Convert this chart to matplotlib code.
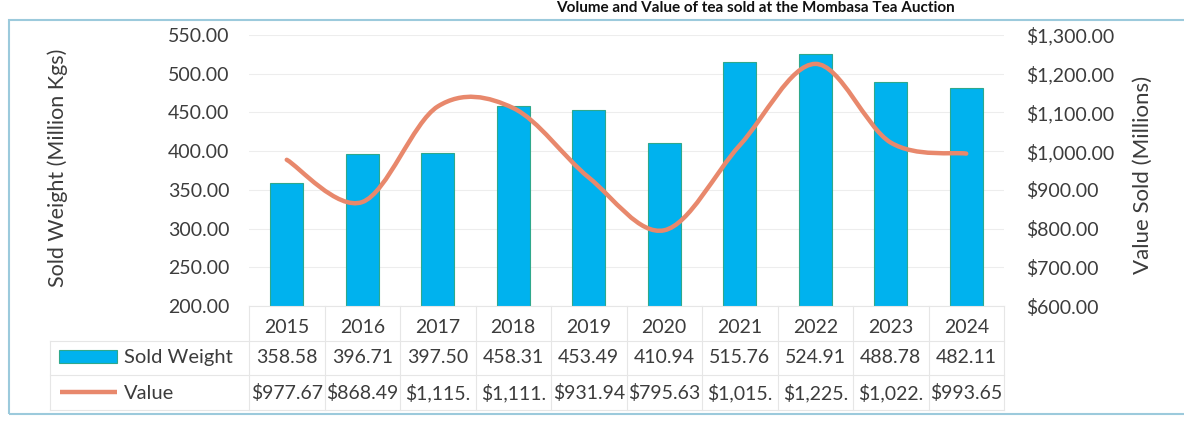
import numpy as np
import matplotlib
matplotlib.use("Agg")
import matplotlib.pyplot as plt
from matplotlib.path import Path
from matplotlib.patches import PathPatch, Rectangle
from matplotlib.lines import Line2D
import matplotlib.transforms as mtransforms

years = ["2015", "2016", "2017", "2018", "2019", "2020", "2021", "2022", "2023", "2024"]
sold_weight = [358.58, 396.71, 397.50, 458.31, 453.49, 410.94, 515.76, 524.91, 488.78, 482.11]
value_sold = [977.67, 868.49, 1115.40, 1111.30, 931.94, 795.63, 1015.20, 1225.40, 1022.10, 993.65]
# labels as printed in the data table (truncated cells kept as in the picture)
weight_labels = ["358.58", "396.71", "397.50", "458.31", "453.49", "410.94", "515.76", "524.91", "488.78", "482.11"]
value_labels = ["$977.67", "$868.49", "$1,115.", "$1,111.", "$931.94", "$795.63", "$1,015.", "$1,225.", "$1,022.", "$993.65"]
left_ticks = [200, 250, 300, 350, 400, 450, 500, 550]
right_ticks = [600, 700, 800, 900, 1000, 1100, 1200, 1300]

bar_color = "#00B2EE"
bar_edge = "#2FA88C"
line_color = "#E8886C"
text_color = "#3C3C3C"
grid_color = "#EDEDED"

plt.rcParams["font.family"] = ["Lato", "DejaVu Sans"]

W, H = 1184, 423
fig = plt.figure(figsize=(W / 100, H / 100), dpi=100)


def fx(px):
    return px / W


def fy(py):
    return 1 - py / H


ax = fig.add_axes([fx(249), fy(306), fx(1004) - fx(249), fy(35) - fy(306)])
x = np.arange(len(years))

ax.bar(x, sold_weight, width=0.44, color=bar_color, edgecolor=bar_edge, linewidth=0.8, zorder=2)
ax.set_xlim(-0.5, len(years) - 0.5)
ax.set_ylim(200, 550)
ax.set_yticks(left_ticks)
ax.set_yticklabels([f"{t:.2f}" for t in left_ticks])
ax.set_xticks(x)
ax.set_xticklabels(years)
ax.tick_params(axis="x", length=0, pad=9, labelsize=14, labelcolor=text_color)
ax.tick_params(axis="y", length=0, pad=14, labelsize=14, labelcolor=text_color)
ax.grid(axis="y", color=grid_color, linewidth=0.8, zorder=0)
ax.set_axisbelow(True)
for s in ax.spines.values():
    s.set_visible(False)

# right axis with smoothed value line
ax2 = ax.twinx()
ax2.set_ylim(600, 1300)
ax2.set_yticks(right_ticks)
ax2.set_yticklabels([f"${t:,.2f}" for t in right_ticks])
ax2.tick_params(axis="y", length=0, pad=16, labelsize=14, labelcolor=text_color)
for s in ax2.spines.values():
    s.set_visible(False)

# smooth curve like Excel's "smoothed line" via cubic bezier segments
pts = np.column_stack([x, value_sold]).astype(float)
verts = [tuple(pts[0])]
codes = [Path.MOVETO]
n = len(pts)
for i in range(n - 1):
    p0 = pts[i - 1] if i > 0 else pts[i]
    p1 = pts[i]
    p2 = pts[i + 1]
    p3 = pts[i + 2] if i + 2 < n else pts[i + 1]
    c1 = p1 + (p2 - p0) / 6.0
    c2 = p2 - (p3 - p1) / 6.0
    verts += [tuple(c1), tuple(c2), tuple(p2)]
    codes += [Path.CURVE4] * 3
ax2.add_patch(PathPatch(Path(verts, codes), facecolor="none", edgecolor=line_color,
                        linewidth=3.2, capstyle="round", joinstyle="round", zorder=3))

# axis titles
fig.text(fx(58), fy(168), "Sold Weight (Million Kgs)", rotation=90, ha="center", va="center",
         fontsize=15.5, color=text_color)
fig.text(fx(1143), fy(175), "Value Sold (Millions)", rotation=90, ha="center", va="center",
         fontsize=16, color=text_color)

# title (cut by the scan in the source; kept fully visible here, small, at the top)
fig.text(fx(955), fy(1), "Volume and Value of tea sold at the Mombasa Tea Auction", ha="right",
         va="top", fontsize=11, fontweight="bold", color="#111111")

# data table under the plot
tr = mtransforms.blended_transform_factory(ax.transData, fig.transFigure)
tcol = "#E6E6E6"
row_lines = [306, 341, 375, 410]
for i, ry in enumerate(row_lines):
    if i == 0:
        fig.add_artist(Line2D([-0.5, len(years) - 0.5], [fy(ry), fy(ry)], color=tcol, lw=0.8,
                              transform=tr))
    else:
        fig.add_artist(Line2D([fx(50), fx(1004)], [fy(ry), fy(ry)], color=tcol, lw=0.8))
for b in np.arange(-0.5, len(years), 1.0):
    fig.add_artist(Line2D([b, b], [fy(306), fy(410)], color=tcol, lw=0.8, transform=tr))
fig.add_artist(Line2D([fx(50), fx(50)], [fy(341), fy(410)], color=tcol, lw=0.8))

for i in range(len(years)):
    fig.text(x[i], fy(357), weight_labels[i], transform=tr, ha="center", va="center",
             fontsize=14, color=text_color)
    fig.text(x[i], fy(393), value_labels[i], transform=tr, ha="center", va="center",
             fontsize=14, color=text_color)

# legend keys in the table
fig.add_artist(Rectangle((fx(59), fy(363)), fx(58), fy(350) - fy(363), facecolor=bar_color,
                         edgecolor=bar_edge, linewidth=0.8))
fig.text(fx(124), fy(357), "Sold Weight", ha="left", va="center", fontsize=14.5, color=text_color)
fig.add_artist(Line2D([fx(60), fx(117)], [fy(392), fy(392)], color=line_color, lw=3.2,
                      solid_capstyle="butt"))
fig.text(fx(124), fy(393), "Value", ha="left", va="center", fontsize=14.5, color=text_color)

# chart frame
fig.add_artist(Rectangle((fx(9), fy(414)), fx(1200) - fx(9), fy(20) - fy(414), facecolor="none",
                         edgecolor="#9CCADC", linewidth=1.5))

fig.savefig("out.png", dpi=100)
